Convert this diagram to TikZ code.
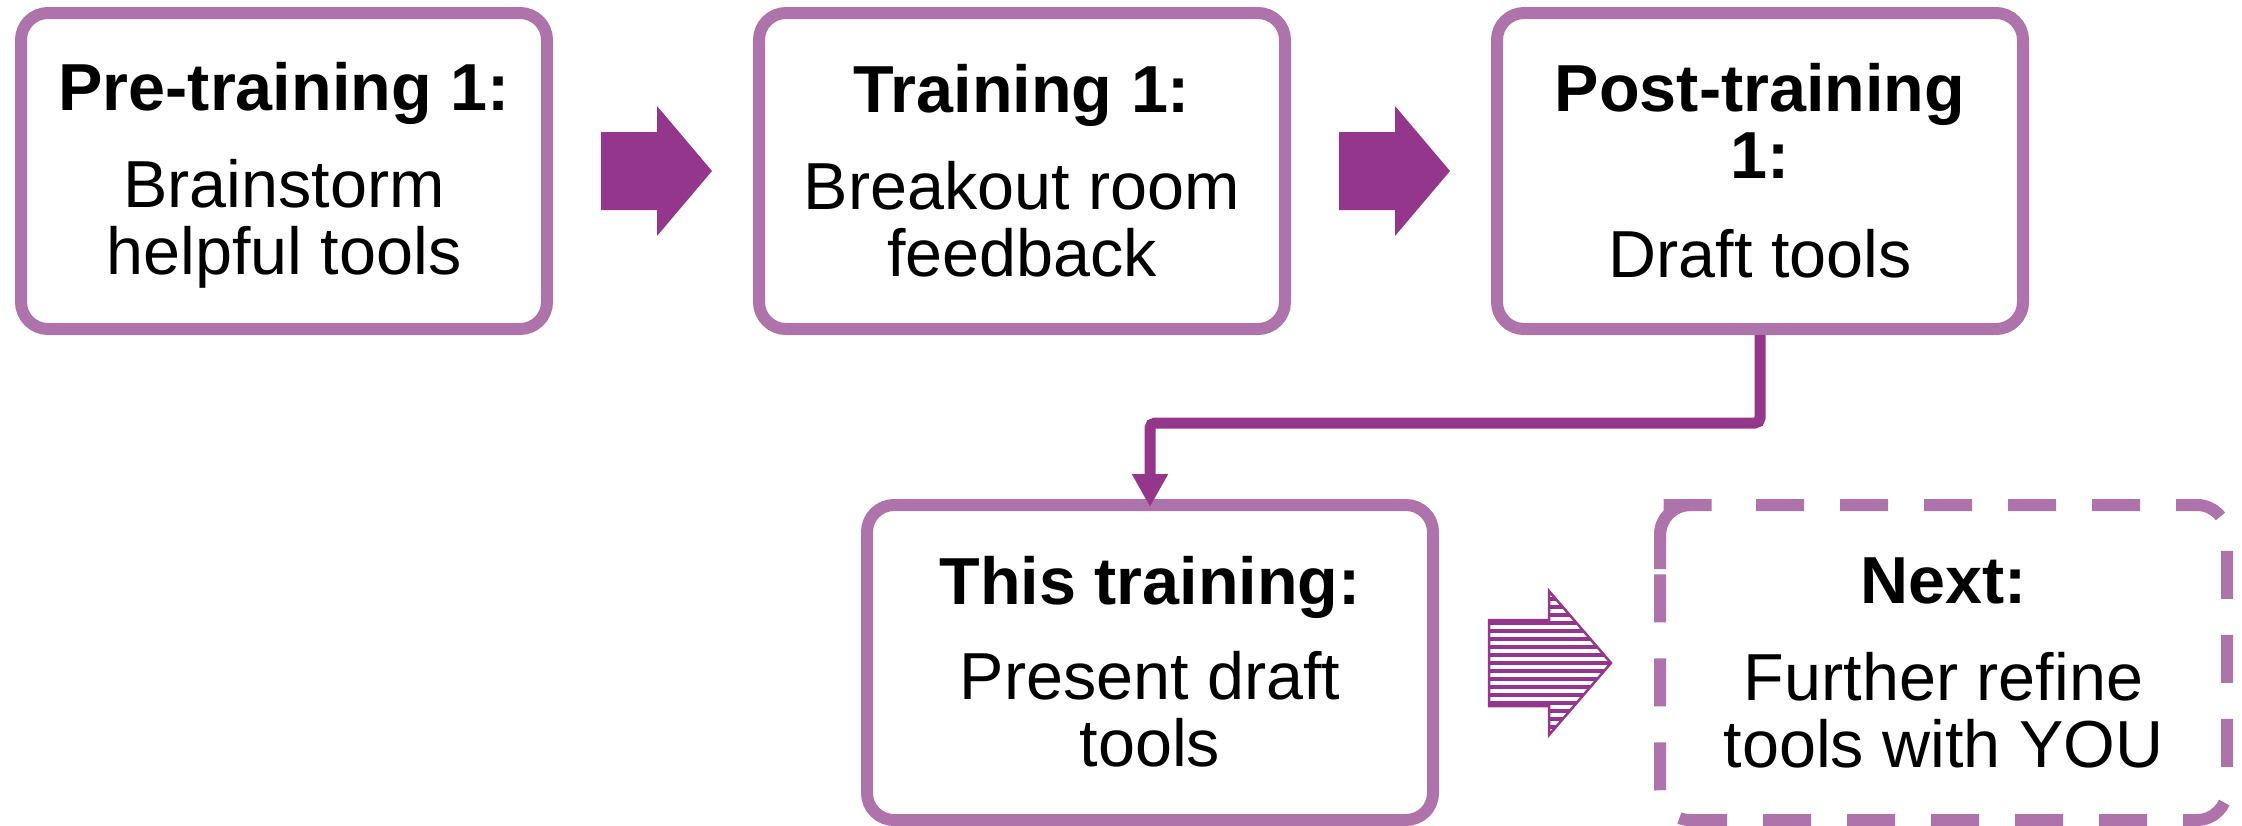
\documentclass[tikz,border=0pt]{standalone}
\usepackage{fontspec}
\setmainfont{Liberation Sans}
\usetikzlibrary{arrows.meta,calc}
\definecolor{boxc}{HTML}{AF73AC}
\definecolor{arrc}{HTML}{94378C}
\newcommand\tstrut{\rule{0pt}{56pt}}
\newcommand\bstrut{\rule[-10pt]{0pt}{10pt}}
\begin{document}
\begin{tikzpicture}[x=1pt,y=-1pt,
  boxtext/.style={align=center, inner sep=0pt, font=\fontsize{66.5}{67}\selectfont},
  solidbox/.style={boxtext, draw=boxc, line width=12pt, rounded corners=27pt,
    minimum width=526pt, minimum height=316pt},
  lowbox/.style={solidbox, minimum width=566pt, minimum height=315pt},
  dashbox/.style={boxtext, minimum width=567pt, minimum height=315pt, outer sep=0pt},
  dashedge/.style={draw=boxc, line width=12pt, rounded corners=30pt,
    dash pattern=on 48pt off 36pt, dash phase=48pt},
  cornerpiece/.style={draw=boxc, line width=12pt, rounded corners=30pt},
  blockarrow/.style={fill=arrc, draw=none},
  conn/.style={draw=arrc, line width=11pt, rounded corners=5pt,
    -{Triangle[width=34pt,length=33pt]}, shorten >=-8pt}
]
\useasboundingbox (0,0) rectangle (2242,825);

% boxes
\node[solidbox] (b1) at (284,171)
  {{\bfseries\tstrut Pre-training 1:}\\[30pt] Brainstorm\\ helpful tools\bstrut};
\node[solidbox] (b2) at (1022,171)
  {{\bfseries\tstrut Training 1:}\\[30pt] Breakout room\\ feedback\bstrut};
\node[solidbox] (b3) at (1760,171)
  {{\bfseries\tstrut Post-training}\\ {\bfseries 1:}\\[32pt] Draft tools\bstrut};
\node[lowbox] (b4) at (1150,662.5)
  {{\bfseries\tstrut This training:}\\[28pt] Present draft\\ tools\bstrut};
\node[dashbox] (b5) at (1943.5,662.5)
  {{\bfseries\tstrut Next:}\\[30pt] Further refine\\ tools with YOU\bstrut};

% dashed border of the last box
\draw[dashedge] ($(b5.north west)+(30,0)$) -- (b5.north east) -- (b5.south east)
  -- (b5.south west) -- (b5.north west) -- cycle;
\draw[cornerpiece] ($(b5.north west)+(0,64)$) -- (b5.north west) -- ($(b5.north west)+(30,0)$);

% block arrows
\fill[blockarrow] (601,132) -- (657,132) -- (657,106) -- (712,171) -- (657,236)
  -- (657,210) -- (601,210) -- cycle;
\fill[blockarrow] (1339,132) -- (1395,132) -- (1395,106) -- (1450,171) -- (1395,236)
  -- (1395,210) -- (1339,210) -- cycle;

% striped arrow
\begin{scope}
  \clip (1489,620) -- (1549,620) -- (1549,591) -- (1611,663) -- (1549,735)
    -- (1549,706) -- (1489,706) -- cycle;
  \foreach \k in {-9,...,9} {
    \fill[arrc] (1480,{663+8*\k-2.2}) rectangle (1620,{663+8*\k+2.2});
  }
\end{scope}
\draw[arrc, line width=2.5pt, line join=miter] (1489,620) -- (1549,620) -- (1549,591)
  -- (1611,663) -- (1549,735) -- (1549,706) -- (1489,706) -- cycle;

% connector
\draw[conn] (b3.south) -- ++(0,88) -| (b4.north);
\end{tikzpicture}
\end{document}
